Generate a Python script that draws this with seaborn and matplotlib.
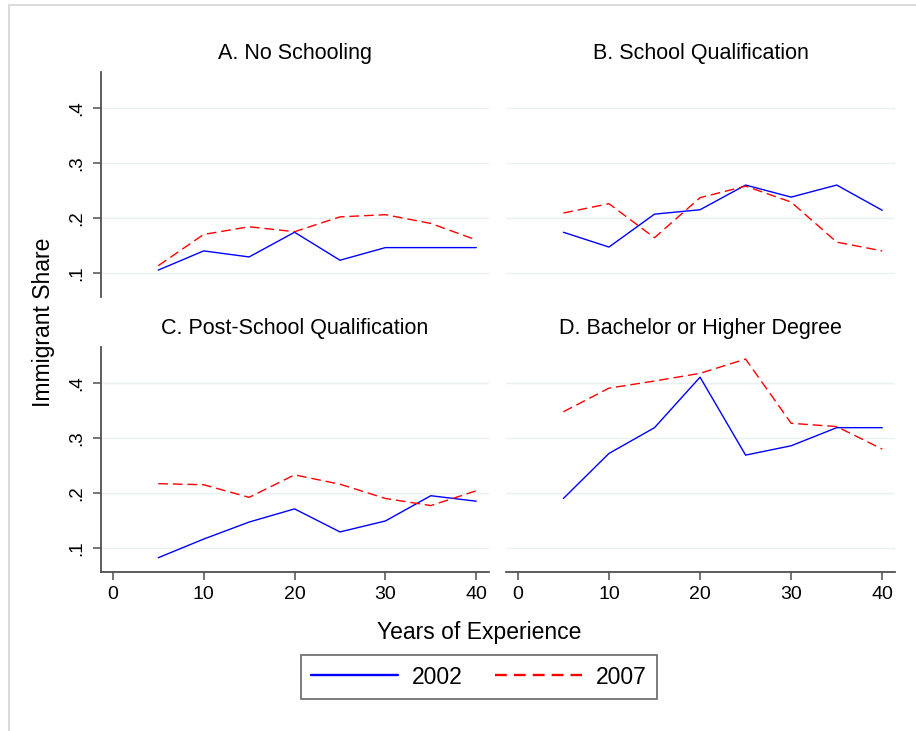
import pandas as pd
import seaborn as sns
import matplotlib.pyplot as plt
from matplotlib.lines import Line2D
from matplotlib.patches import Rectangle

# Data
experience = [5, 10, 15, 20, 25, 30, 35, 40]
years = ['2002', '2007']
panel_titles = ['A. No Schooling', 'B. School Qualification',
                'C. Post-School Qualification', 'D. Bachelor or Higher Degree']
share_2002 = {
    'A. No Schooling': [0.105, 0.140, 0.129, 0.174, 0.123, 0.146, 0.146, 0.146],
    'B. School Qualification': [0.174, 0.147, 0.207, 0.215, 0.260, 0.238, 0.260, 0.214],
    'C. Post-School Qualification': [0.082, 0.116, 0.147, 0.171, 0.129, 0.149, 0.195, 0.185],
    'D. Bachelor or Higher Degree': [0.190, 0.272, 0.319, 0.411, 0.269, 0.286, 0.319, 0.319],
}
share_2007 = {
    'A. No Schooling': [0.113, 0.170, 0.184, 0.175, 0.202, 0.206, 0.190, 0.160],
    'B. School Qualification': [0.209, 0.226, 0.164, 0.237, 0.258, 0.229, 0.156, 0.140],
    'C. Post-School Qualification': [0.217, 0.215, 0.192, 0.233, 0.216, 0.190, 0.177, 0.204],
    'D. Bachelor or Higher Degree': [0.348, 0.391, 0.404, 0.418, 0.444, 0.327, 0.321, 0.280],
}
x_ticks = [0, 10, 20, 30, 40]
y_ticks = [0.1, 0.2, 0.3, 0.4]
y_tick_labels = ['.1', '.2', '.3', '.4']

rows = []
for p in panel_titles:
    for yr, src in zip(years, [share_2002, share_2007]):
        for x, v in zip(experience, src[p]):
            rows.append({'panel': p, 'year': yr, 'experience': x, 'share': v})
df = pd.DataFrame(rows)

sns.set_style('white')
plt.rcParams['font.family'] = ['Liberation Sans', 'DejaVu Sans']
plt.rcParams['text.color'] = 'black'
plt.rcParams['xtick.labelcolor'] = 'black'
plt.rcParams['ytick.labelcolor'] = 'black'

W, H = 916, 731
fig = plt.figure(figsize=(W / 100, H / 100), dpi=100)
fig.patch.set_facecolor('white')

# light frame around the graph region
fig.patches.append(Rectangle((9 / W, -0.1), 1.2, 1.1 - 5 / H, transform=fig.transFigure,
                             fill=False, edgecolor='#d4d4d4', lw=1.2))

palette = {'2002': '#0000ff', '2007': '#ff0000'}
dashes = {'2002': '', '2007': (7, 3.5)}
spine_col = '#505050'

# axes boxes in pixels: (left, top, right, bottom)
boxes = [(101, 72, 489, 297), (506, 72, 895, 297),
         (101, 347, 489, 572), (506, 347, 895, 572)]

for i, (p, (l, t, r, b)) in enumerate(zip(panel_titles, boxes)):
    ax = fig.add_axes([l / W, 1 - b / H, (r - l) / W, (b - t) / H])
    for yv in y_ticks:
        ax.axhline(yv, color='#eaf1f2', lw=1.0, zorder=0)
    sns.lineplot(data=df[df['panel'] == p], x='experience', y='share',
                 hue='year', style='year', palette=palette, dashes=dashes,
                 estimator=None, lw=1.0, legend=False, ax=ax)
    ax.set_xlim(-1.3, 41.4)
    ax.set_ylim(0.056, 0.466)
    ax.set_xlabel('')
    ax.set_ylabel('')
    ax.text(0.5, 1.084, p, transform=ax.transAxes, ha='center', va='center',
            fontsize=15.5, color='black')

    left_col = i % 2 == 0
    bottom_row = i >= 2
    for s in ['top', 'right']:
        ax.spines[s].set_visible(False)
    ax.spines['left'].set_visible(left_col)
    ax.spines['bottom'].set_visible(bottom_row)
    for s in ['left', 'bottom']:
        ax.spines[s].set_color(spine_col)
        ax.spines[s].set_linewidth(1.3)

    ax.set_yticks(y_ticks)
    ax.set_xticks(x_ticks)
    if left_col:
        ax.set_yticklabels(y_tick_labels)
        ax.tick_params(axis='y', direction='out', length=6, width=1.1, color=spine_col,
                       pad=5, labelsize=13.5, labelrotation=90, left=True,
                       labelcolor='black')
        for lab in ax.get_yticklabels():
            lab.set_va('center')
    else:
        ax.tick_params(axis='y', left=False, labelleft=False)
    if bottom_row:
        ax.set_xticklabels([str(v) for v in x_ticks])
        ax.tick_params(axis='x', direction='out', length=6, width=1.1, color=spine_col,
                       pad=4, labelsize=14, bottom=True, labelcolor='black')
    else:
        ax.tick_params(axis='x', bottom=False, labelbottom=False)

fig.text(44 / W, 1 - 322 / H, 'Immigrant Share', rotation=90, ha='center', va='center',
         fontsize=16.5, color='black')
fig.text(479 / W, 1 - 632 / H, 'Years of Experience', ha='center', va='center',
         fontsize=16.5, color='black')

handles = [Line2D([], [], color='#0000ff', lw=1.7),
           Line2D([], [], color='#ff0000', lw=1.7, dashes=(5, 3))]
leg = fig.legend(handles, years, loc='center', bbox_to_anchor=(479 / W, 1 - 677 / H),
                 ncol=2, fontsize=16.5, frameon=True, fancybox=False,
                 handlelength=3.8, handletextpad=0.6, columnspacing=1.4,
                 borderpad=0.45, borderaxespad=0)
leg.get_frame().set_edgecolor('#404040')
leg.get_frame().set_linewidth(1.2)
for txt in leg.get_texts():
    txt.set_color('black')

plt.savefig('out.png', dpi=100)
